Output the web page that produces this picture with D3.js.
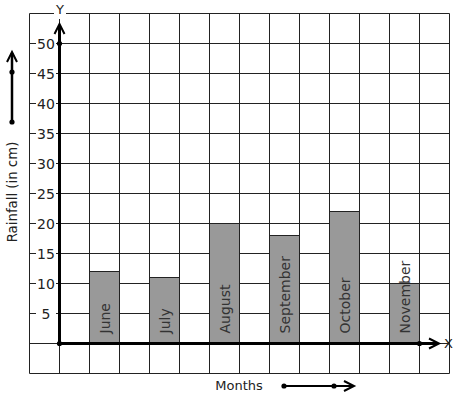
<!DOCTYPE html>
<html><head><meta charset="utf-8">
<script src="https://cdn.jsdelivr.net/npm/d3@7/dist/d3.min.js"></script>
<style>body{margin:0;background:#fff}svg{display:block}text{font-family:"DejaVu Sans",sans-serif}</style>
</head><body>
<script>
const months = ["June","July","August","September","October","November"];
const rainfall = [12, 11, 20, 18, 22, 10];
const yTicks = [5,10,15,20,25,30,35,40,45,50];

const W = 457, H = 399;
const svg = d3.select("body").append("svg").attr("width", W).attr("height", H);

const y = d3.scaleLinear().domain([0, 50]).range([343.5, 43.5]);
const xg = d3.scaleLinear().domain([-1, 13]).range([29.5, 449.5]); // grid columns
const x = d3.scaleBand().domain(months).range([74.5, 434.5]).paddingInner(0.5).paddingOuter(0.25);

// grid
const g = svg.append("g").attr("stroke", "#222").attr("stroke-width", 1);
d3.range(-1, 14).forEach(i => g.append("line").attr("x1", xg(i)).attr("x2", xg(i)).attr("y1", y(55)).attr("y2", y(-5)));
d3.range(-5, 60, 5).forEach(v => g.append("line").attr("x1", xg(-1)).attr("x2", xg(13)).attr("y1", y(v)).attr("y2", y(v)));

// bars
svg.selectAll("rect.bar").data(months).enter().append("rect")
  .attr("x", d => x(d)).attr("width", x.bandwidth())
  .attr("y", (d,i) => y(rainfall[i])).attr("height", (d,i) => y(0) - y(rainfall[i]))
  .attr("fill", "#999").attr("stroke", "#222").attr("stroke-width", 1);

svg.selectAll("text.bl").data(months).enter().append("text")
  .attr("transform", d => `translate(${x(d) + x.bandwidth()/2 + 5},${y(0) - 10}) rotate(-90)`)
  .attr("font-size", 14).attr("fill", "#333").text(d => d);

// y tick labels with white background
yTicks.forEach(v => {
  svg.append("rect").attr("x", 36).attr("y", y(v) - 7).attr("width", 20).attr("height", 14).attr("fill", "#fff");
  svg.append("text").attr("x", 46).attr("y", y(v)).attr("dy", "0.36em").attr("text-anchor", "middle")
    .attr("font-size", 14).attr("fill", "#222").text(v);
});

function chevronUp(cx, cy) {
  svg.append("path").attr("d", `M${cx-5},${cy+10} L${cx},${cy} L${cx+5},${cy+10}`)
    .attr("fill", "none").attr("stroke", "#000").attr("stroke-width", 2);
}
function chevronRight(cx, cy) {
  svg.append("path").attr("d", `M${cx-10},${cy-5} L${cx},${cy} L${cx-10},${cy+5}`)
    .attr("fill", "none").attr("stroke", "#000").attr("stroke-width", 2);
}
function dot(cx, cy) { svg.append("circle").attr("cx", cx).attr("cy", cy).attr("r", 2.6).attr("fill", "#000"); }

// axes
svg.append("line").attr("x1", xg(0)).attr("x2", xg(0)).attr("y1", y(0)).attr("y2", 25).attr("stroke", "#000").attr("stroke-width", 3);
chevronUp(xg(0), 24);
svg.append("line").attr("x1", xg(0)).attr("x2", 438).attr("y1", y(0)).attr("y2", y(0)).attr("stroke", "#000").attr("stroke-width", 3);
chevronRight(439, y(0));
dot(xg(0), y(0)); dot(xg(0), y(50)); dot(xg(12), y(0));

// Y and X labels
svg.append("rect").attr("x", 54).attr("y", 5).attr("width", 12).attr("height", 14).attr("fill", "#fff");
svg.append("text").attr("x", xg(0) + 0.5).attr("y", 13).attr("dy", "0.1em").attr("text-anchor", "middle").attr("font-size", 13).attr("fill", "#222").text("Y");
svg.append("text").attr("x", 444).attr("y", y(0)).attr("dy", "0.36em").attr("font-size", 13).attr("fill", "#222").text("X");

// left label + arrow
svg.append("text").attr("transform", "translate(17,192) rotate(-90)").attr("text-anchor", "middle")
  .attr("font-size", 13.3).attr("fill", "#222").text("Rainfall (in cm)");
svg.append("line").attr("x1", 12).attr("x2", 12).attr("y1", 122).attr("y2", 53).attr("stroke", "#000").attr("stroke-width", 2.5);
chevronUp(12, 52); dot(12, 72); dot(12, 122);

// bottom label + arrow
svg.append("text").attr("x", 239).attr("y", 390).attr("text-anchor", "middle").attr("font-size", 13).attr("fill", "#222").text("Months");
svg.append("line").attr("x1", 284).attr("x2", 353).attr("y1", 386).attr("y2", 386).attr("stroke", "#000").attr("stroke-width", 2);
chevronRight(354, 386); dot(284, 386); dot(334, 386);
</script>
</body></html>
